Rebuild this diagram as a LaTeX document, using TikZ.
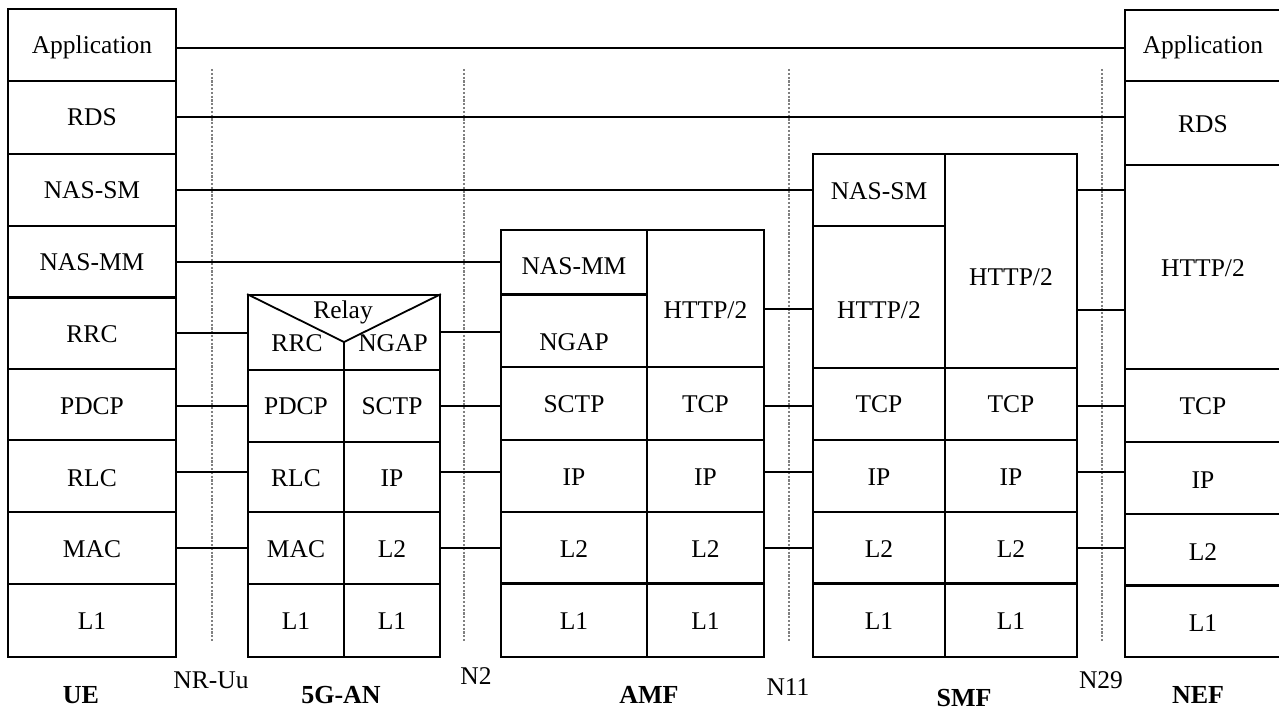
\documentclass[tikz,border=0pt]{standalone}
\usepackage{fontspec}
\setmainfont{Liberation Serif}
\tikzset{
  cellst/.style={draw, line width=1.8pt, inner sep=0pt, rectangle},
  txt/.style={font=\fontsize{25.5}{30}\selectfont, inner sep=0pt},
  ttl/.style={font=\fontsize{26}{30}\selectfont\bfseries, inner sep=0pt},
  conn/.style={line width=2pt},
  iface/.style={draw=gray, line width=1.2pt, dash pattern=on 2.2pt off 1.6pt},
  dbl/.style={line width=3pt}
}
\newcommand\cellbox[7]{%
  \pgfmathsetmacro\cellW{#4-#2}%
  \pgfmathsetmacro\cellH{#5-#3}%
  \node[cellst, minimum width=\cellW pt, minimum height=\cellH pt] (#1) at ({(#2+#4)/2},{(#3+#5)/2}) {};
  \node[txt] (#1-t) at ({(#2+#4)/2},#7) {#6};
}
\begin{document}
\begin{tikzpicture}[x=1pt,y=-1pt]
\useasboundingbox (0,0) rectangle (1279,711);
% interfaces
\coordinate (d1t) at (212,69); \coordinate (d1b) at (212,641);
\coordinate (d2t) at (464,69); \coordinate (d2b) at (464,641);
\coordinate (d3t) at (789,69); \coordinate (d3b) at (789,641);
\coordinate (d4t) at (1102,69); \coordinate (d4b) at (1102,641);
\draw[iface] (d1t) -- (d1b);
\draw[iface] (d2t) -- (d2b);
\draw[iface] (d3t) -- (d3b);
\draw[iface] (d4t) -- (d4b);
% UE
\cellbox{ueapp}{8}{9}{176}{81}{Application}{47}
\cellbox{uerds}{8}{81}{176}{154}{RDS}{117}
\cellbox{uesm}{8}{154}{176}{226}{NAS-SM}{190}
\cellbox{uemm}{8}{226}{176}{297}{NAS-MM}{262}
\cellbox{uerrc}{8}{297}{176}{369}{RRC}{334}
\cellbox{uepdcp}{8}{369}{176}{440}{PDCP}{406}
\cellbox{uerlc}{8}{440}{176}{512}{RLC}{478}
\cellbox{uemac}{8}{512}{176}{584}{MAC}{549}
\cellbox{uel1}{8}{584}{176}{657}{L1}{621}
\draw[dbl] (uemm.south west) -- (uemm.south east);
% 5G-AN
\node[cellst, minimum width=192pt, minimum height=75pt] (anrelay) at (344,332.5) {};
\coordinate (anV) at (344,342);
\draw[line width=1.8pt] (anrelay.north west) -- (anV) -- (anrelay.north east);
\draw[line width=1.8pt] (anV) -- (anV |- anrelay.south);
\node[txt] (relay-t) at (343,312) {Relay};
\node[txt] (anrrc-t) at (297,343) {RRC};
\node[txt] (anngap-t) at (393,343) {NGAP};
\cellbox{anpdcp}{248}{370}{344}{442}{PDCP}{406}
\cellbox{ansctp}{344}{370}{440}{442}{SCTP}{406}
\cellbox{anrlc}{248}{442}{344}{512}{RLC}{478}
\cellbox{anip}{344}{442}{440}{512}{IP}{478}
\cellbox{anmac}{248}{512}{344}{584}{MAC}{549}
\cellbox{anl2}{344}{512}{440}{584}{L2}{549}
\cellbox{anl1a}{248}{584}{344}{657}{L1}{621}
\cellbox{anl1b}{344}{584}{440}{657}{L1}{621}
% AMF
\cellbox{amfmm}{501}{230}{647}{294}{NAS-MM}{266}
\cellbox{amfngap}{501}{294}{647}{367}{NGAP}{342}
\cellbox{amfhttp}{647}{230}{764}{367}{HTTP/2}{310}
\cellbox{amfsctp}{501}{367}{647}{440}{SCTP}{404}
\cellbox{amftcp}{647}{367}{764}{440}{TCP}{404}
\cellbox{amfipa}{501}{440}{647}{512}{IP}{477}
\cellbox{amfipb}{647}{440}{764}{512}{IP}{477}
\cellbox{amfl2a}{501}{512}{647}{584}{L2}{549}
\cellbox{amfl2b}{647}{512}{764}{584}{L2}{549}
\cellbox{amfl1a}{501}{584}{647}{657}{L1}{621}
\cellbox{amfl1b}{647}{584}{764}{657}{L1}{621}
\draw[dbl] (amfmm.south west) -- (amfmm.south east);
\draw[dbl] (amfl1a.north west) -- (amfl1b.north east);
% SMF
\cellbox{smfsm}{813}{154}{945}{226}{NAS-SM}{191}
\cellbox{smfhttpa}{813}{226}{945}{368}{HTTP/2}{310}
\cellbox{smfhttpb}{945}{154}{1077}{368}{HTTP/2}{277}
\cellbox{smftcpa}{813}{368}{945}{440}{TCP}{404}
\cellbox{smftcpb}{945}{368}{1077}{440}{TCP}{404}
\cellbox{smfipa}{813}{440}{945}{512}{IP}{477}
\cellbox{smfipb}{945}{440}{1077}{512}{IP}{477}
\cellbox{smfl2a}{813}{512}{945}{584}{L2}{549}
\cellbox{smfl2b}{945}{512}{1077}{584}{L2}{549}
\cellbox{smfl1a}{813}{584}{945}{657}{L1}{621}
\cellbox{smfl1b}{945}{584}{1077}{657}{L1}{621}
\draw[dbl] (smfl1a.north west) -- (smfl1b.north east);
% NEF
\cellbox{nefapp}{1125}{10}{1281}{81}{Application}{47}
\cellbox{nefrds}{1125}{81}{1281}{165}{RDS}{124}
\cellbox{nefhttp}{1125}{165}{1281}{369}{HTTP/2}{268}
\cellbox{neftcp}{1125}{369}{1281}{442}{TCP}{406}
\cellbox{nefip}{1125}{442}{1281}{514}{IP}{480}
\cellbox{nefl2}{1125}{514}{1281}{586}{L2}{552}
\cellbox{nefl1}{1125}{586}{1281}{657}{L1}{623}
\draw[line width=2.4pt] (nefl1.north west) -- (nefl1.north east);
% connectors
\draw[conn] ([yshift=-3pt]ueapp.east) -- ([yshift=-3pt]ueapp.east -| nefapp.west);
\draw[conn] ([yshift=0.5pt]uerds.east) -- ([yshift=0.5pt]uerds.east -| nefrds.west);
\draw[conn] (uesm.east) -- (uesm.east -| smfsm.west);
\draw[conn] ([yshift=-0.5pt]uemm.east) -- ([yshift=-0.5pt]uemm.east -| amfmm.west);
\draw[conn] ([yshift=0.5pt]uerrc.east) -- ([yshift=0.5pt]uerrc.east -| anrelay.west);
\draw[conn] ([yshift=-1.5pt]uepdcp.east) -- ([yshift=-1.5pt]uepdcp.east -| anpdcp.west);
\draw[conn] ([yshift=4pt]uerlc.east) -- ([yshift=4pt]uerlc.east -| anrlc.west);
\draw[conn] (uemac.east) -- (uemac.east -| anmac.west);
\draw[conn] ([yshift=0.5pt]anrelay.east) -- ([yshift=0.5pt]anrelay.east -| amfngap.west);
\draw[conn] (ansctp.east) -- (ansctp.east -| amfsctp.west);
\draw[conn] ([yshift=5pt]anip.east) -- ([yshift=5pt]anip.east -| amfipa.west);
\draw[conn] (anl2.east) -- (anl2.east -| amfl2a.west);
\draw[conn] ([yshift=-10.5pt]amfhttp.east) -- ([yshift=-10.5pt]amfhttp.east -| smfhttpa.west);
\draw[conn] ([yshift=-2.5pt]amftcp.east) -- ([yshift=-2.5pt]amftcp.east -| smftcpa.west);
\draw[conn] ([yshift=4pt]amfipb.east) -- ([yshift=4pt]amfipb.east -| smfipa.west);
\draw[conn] (amfl2b.east) -- (amfl2b.east -| smfl2a.west);
\draw[conn] (smfhttpb.east |- smfsm.east) -- (smfsm.east -| nefhttp.west);
\draw[conn] (smfhttpb.east |- smfhttpa-t) -- (smfhttpa-t -| nefhttp.west);
\draw[conn] ([yshift=-2pt]smftcpb.east) -- ([yshift=-2pt]smftcpb.east -| neftcp.west);
\draw[conn] ([yshift=4pt]smfipb.east) -- ([yshift=4pt]smfipb.east -| nefip.west);
\draw[conn] (smfl2b.east) -- (smfl2b.east -| nefl2.west);
% labels
\node[ttl] (lue) at (81,695) {UE};
\node[txt] (lnr) at (211,680) {NR-Uu};
\node[ttl] (lan) at (341,695) {5G-AN};
\node[txt] (ln2) at (476,676) {N2};
\node[ttl] (lamf) at (649,695) {AMF};
\node[txt] (ln11) at (788,687) {N11};
\node[ttl] (lsmf) at (964,698) {SMF};
\node[txt] (ln29) at (1101,680) {N29};
\node[ttl] (lnef) at (1198,695) {NEF};
\end{tikzpicture}
\end{document}
